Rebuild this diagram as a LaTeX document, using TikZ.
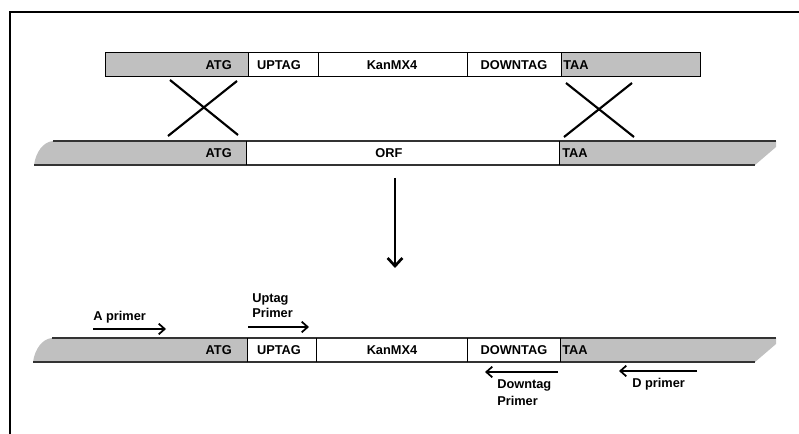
\documentclass[tikz,border=0pt]{standalone}
\usepackage{fontspec}
\setmainfont{Liberation Sans}
\usetikzlibrary{arrows.meta}
\definecolor{dnagray}{HTML}{C0C0C0}
\tikzset{
  seg/.style={draw=black, line width=0.75pt},
  lab/.style={font=\bfseries\fontsize{9.6}{10}\selectfont, inner sep=0pt},
  cross/.style={line width=1.6pt},
  primer/.style={line width=1.3pt, -{Straight Barb[length=4.5pt,width=8pt,line width=1.3pt]}},
  edge/.style={line width=0.9pt, draw=black!80},
}
\begin{document}
\begin{tikzpicture}[x=0.75pt,y=-0.75pt]
\useasboundingbox (0,0) rectangle (799,434);
\fill[white] (0,0) rectangle (799,434);
% partial frame
\draw[line width=0.9pt] (10,434) -- (10,12) -- (799,12);

% ---------- top strand (cassette) ----------
\fill[dnagray] (105,53) rectangle (248,77);
\fill[dnagray] (561,53) rectangle (700,77);
\draw[seg] (105,53) rectangle (700,77);
\draw[seg] (248,53) -- (248,77);
\draw[seg] (318,53) -- (318,77);
\draw[seg] (467,53) -- (467,77);
\draw[seg] (561,53) -- (561,77);
\node[lab, anchor=east] (tatg) at (232,65) {ATG};
\node[lab] (tup) at (279,65) {UPTAG};
\node[lab] (tkan) at (392,65) {KanMX4};
\node[lab] (tdown) at (514,65) {DOWNTAG};
\node[lab, anchor=west] (ttaa) at (563,65) {TAA};

% ---------- crossovers ----------
\coordinate (xa1) at (170,80); \coordinate (xa2) at (238,135);
\coordinate (xb1) at (237,81); \coordinate (xb2) at (168,136);
\coordinate (xc1) at (566,83); \coordinate (xc2) at (634,137);
\coordinate (xd1) at (632,83); \coordinate (xd2) at (564,137);
\draw[cross] (xa1) -- (xa2);
\draw[cross] (xb1) -- (xb2);
\draw[cross] (xc1) -- (xc2);
\draw[cross] (xd1) -- (xd2);

% ---------- middle strand (chromosome) ----------
\fill[dnagray] (34,165) .. controls (36,152) and (43,142) .. (53,141) -- (246,141) -- (246,165) -- cycle;
\fill[dnagray] (559,141) -- (776,141) -- (776,147) -- (755,165) -- (559,165) -- cycle;
\draw[edge] (53,141) -- (776,141);
\draw[edge] (34,165) -- (755,165);
\draw[seg] (246,141) -- (246,165);
\draw[seg] (559,141) -- (559,165);
\node[lab, anchor=east] (matg) at (232,153) {ATG};
\node[lab] (morf) at (389,153) {ORF};
\node[lab, anchor=west] (mtaa) at (562,153) {TAA};

% ---------- down arrow ----------
\coordinate (da1) at (395,178);
\coordinate (da2) at (395,268);
\draw[line width=2pt, -{Straight Barb[length=6pt,width=11pt,line width=2pt]}] (da1) -- (da2);

% ---------- bottom strand (deletion) ----------
\fill[dnagray] (33,362) .. controls (35,349) and (42,339) .. (52,338) -- (247,338) -- (247,362) -- cycle;
\fill[dnagray] (560,338) -- (776,338) -- (776,344) -- (755,362) -- (560,362) -- cycle;
\draw[edge] (52,338) -- (776,338);
\draw[edge] (33,362) -- (755,362);
\draw[seg] (247,338) -- (247,362);
\draw[seg] (316,338) -- (316,362);
\draw[seg] (467,338) -- (467,362);
\draw[seg] (560,338) -- (560,362);
\node[lab, anchor=east] (batg) at (232,350) {ATG};
\node[lab] (bup) at (279,350) {UPTAG};
\node[lab] (bkan) at (392,350) {KanMX4};
\node[lab] (bdown) at (514,350) {DOWNTAG};
\node[lab, anchor=west] (btaa) at (562,350) {TAA};

% ---------- primers ----------
\coordinate (pa1) at (93,329); \coordinate (pa2) at (166,329);
\draw[primer] (pa1) -- (pa2);
\node[lab, anchor=west] (alab) at (93,317) {A primer};

\coordinate (pu1) at (248,327); \coordinate (pu2) at (309,327);
\draw[primer] (pu1) -- (pu2);
\node[lab, anchor=west] (ulab1) at (252,299) {Uptag};
\node[lab, anchor=west] (ulab2) at (252,313) {Primer};

\coordinate (pd1) at (558,372); \coordinate (pd2) at (485,372);
\draw[primer] (pd1) -- (pd2);
\node[lab, anchor=west] (dlab1) at (497,385) {Downtag};
\node[lab, anchor=west] (dlab2) at (497,401) {Primer};

\coordinate (pr1) at (697,371); \coordinate (pr2) at (619,371);
\draw[primer] (pr1) -- (pr2);
\node[lab, anchor=west] (rlab) at (632,384) {D primer};
\end{tikzpicture}
\end{document}
